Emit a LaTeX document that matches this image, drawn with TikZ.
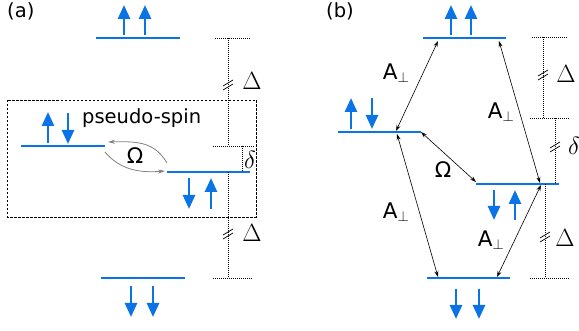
\documentclass[tikz,border=0pt]{standalone}
\usepackage{fontspec}
\setmainfont{DejaVu Sans}
\usetikzlibrary{arrows.meta}
\definecolor{lvlblue}{RGB}{10,115,230}
\begin{document}
\begin{tikzpicture}[x=1pt,y=-1pt,
  level/.style={lvlblue, line width=2.6pt},
  spin/.style={lvlblue, line width=2.6pt, -{Triangle[length=14pt,width=12pt]}},
  dim/.style={line width=0.7pt, dash pattern=on 1pt off 1pt},
  coup/.style={line width=0.6pt, {Stealth[length=6pt,width=4pt]}-{Stealth[length=6pt,width=4pt]}},
  omg/.style={gray, line width=0.8pt, -{Stealth[length=7pt,width=4pt]}},
  txt/.style={font=\fontsize{19.5}{23}\selectfont, inner sep=0pt},
  big/.style={font=\fontsize{21.5}{25}\selectfont, inner sep=0pt},
  mth/.style={font=\fontsize{23}{27}\selectfont, inner sep=0pt},
  brk/.pic={\draw[line width=0.7pt] (-5,1)--(5,-5) (-5,5)--(5,-1);}]
\useasboundingbox (0,0) rectangle (579,331);

% ---------------- panel (a) ----------------
\node[txt, anchor=base west] (la) at (7,18) {(a)};
\coordinate (aTl) at (96,38);  \coordinate (aTr) at (180,38);
\coordinate (aLl) at (21,146); \coordinate (aLr) at (105,146);
\coordinate (aRl) at (167,172); \coordinate (aRr) at (250,172);
\coordinate (aBl) at (101,278); \coordinate (aBr) at (185,278);
\draw[level] (aTl) -- (aTr);
\draw[level] (aLl) -- (aLr);
\draw[level] (aRl) -- (aRr);
\draw[level] (aBl) -- (aBr);
\draw[spin] (124,35) -- (124,5);
\draw[spin] (145,35) -- (145,5);
\draw[spin] (48,143) -- (48,112);
\draw[spin] (68,113) -- (68,144);
\draw[spin] (189,178) -- (189,209);
\draw[spin] (211,209) -- (211,178);
\draw[spin] (131,286) -- (131,317);
\draw[spin] (153,286) -- (153,317);

\draw[line width=0.7pt, dash pattern=on 2.5pt off 1.5pt] (7,100) rectangle (256,217);
\node[txt, anchor=base west] (ps) at (82,124) {pseudo-spin};

\coordinate (oa1) at (167,163); \coordinate (oa2) at (108,142);
\coordinate (oa3) at (105,152); \coordinate (oa4) at (165,171);
\draw[omg] (oa1) .. controls (155,143) and (140,141) .. (oa2);
\draw[omg] (oa3) .. controls (120,170) and (140,173) .. (oa4);
\node[big] (Oa) at (135,156) {Ω};

\draw[dim] (215,38) -- (250,38);
\draw[dim] (228,38) -- (228,146);
\draw[dim] (213,146) -- (255,146);
\draw[dim] (242,146) -- (242,172);
\draw[dim] (228,172) -- (228,278);
\draw[dim] (213,278) -- (253,278);
\pic at (228,85) {brk};
\pic at (228,234) {brk};
\node[mth] (Da1) at (252,81) {$\Delta$};
\node[mth] (da) at (250,160) {$\delta$};
\node[mth] (Da2) at (252,233) {$\Delta$};

% ---------------- panel (b) ----------------
\node[txt, anchor=base west] (lb) at (326,18) {(b)};
\coordinate (bTl) at (423,38);  \coordinate (bTr) at (506,38);
\coordinate (bLl) at (338,132); \coordinate (bLr) at (421,132);
\coordinate (bRl) at (476,184); \coordinate (bRr) at (559,184);
\coordinate (bBl) at (427,278); \coordinate (bBr) at (510,278);
\draw[level] (bTl) -- (bTr);
\draw[level] (bLl) -- (bLr);
\draw[level] (bRl) -- (bRr);
\draw[level] (bBl) -- (bBr);
\draw[spin] (451,35) -- (451,5);
\draw[spin] (471,35) -- (471,5);
\draw[spin] (351,129) -- (351,98);
\draw[spin] (372,98) -- (372,129);
\draw[spin] (494,190) -- (494,220);
\draw[spin] (515,220) -- (515,190);
\draw[spin] (456,289) -- (456,319);
\draw[spin] (479,289) -- (479,319);

\coordinate (p1) at (438,41);  \coordinate (p2) at (396,131);
\coordinate (p3) at (499,41);  \coordinate (p4) at (540,183);
\coordinate (p5) at (397,134); \coordinate (p6) at (438,277);
\coordinate (p7) at (541,185); \coordinate (p8) at (497,277);
\coordinate (p9) at (421,132); \coordinate (p10) at (476,182);
\draw[coup] (p1) -- (p2);
\draw[coup] (p3) -- (p4);
\draw[coup] (p5) -- (p6);
\draw[coup] (p7) -- (p8);
\draw[coup] (p9) -- (p10);
\node[big] (A1) at (396,73) {A$_\perp$};
\node[big] (A2) at (501,112) {A$_\perp$};
\node[big] (A3) at (396,212) {A$_\perp$};
\node[big] (A4) at (491,240) {A$_\perp$};
\node[big] (Ob) at (443,170) {Ω};

\draw[dim] (532,37) -- (567,37);
\draw[dim] (543,37) -- (543,118);
\draw[dim] (530,118) -- (570,118);
\draw[dim] (555,118) -- (555,184);
\draw[dim] (545,184) -- (545,278);
\draw[dim] (530,278) -- (570,278);
\pic at (543,75) {brk};
\pic at (555,147) {brk};
\pic at (545,237) {brk};
\node[mth] (Db1) at (566,74) {$\Delta$};
\node[mth] (db) at (574,146) {$\delta$};
\node[mth] (Db2) at (565,238) {$\Delta$};
\end{tikzpicture}
\end{document}
